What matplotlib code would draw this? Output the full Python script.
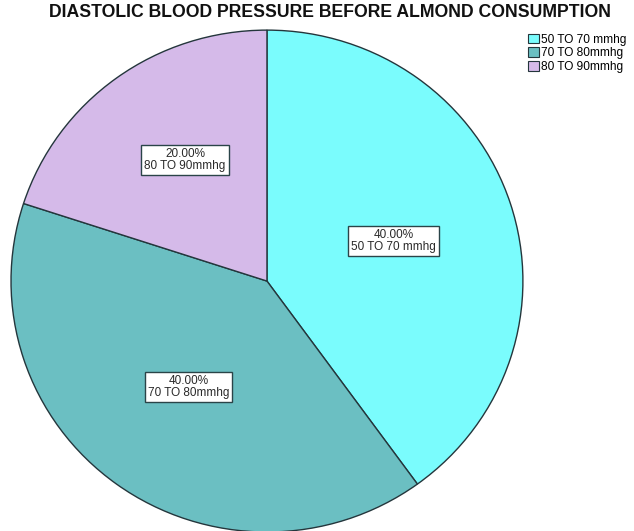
import numpy as np
import matplotlib.pyplot as plt
from matplotlib.patches import Patch

plt.rcParams['font.family'] = ['Liberation Sans', 'DejaVu Sans']

labels = ['50 TO 70 mmhg', '70 TO 80mmhg', '80 TO 90mmhg']
values = [40, 40, 20]
colors = ['#7afcfd', '#6bbfc2', '#d5bae9']
label_r = [0.52, 0.52, 0.58]  # radial position of the boxed labels

fig = plt.figure(figsize=(6.34, 5.31), dpi=100)
ax = fig.add_axes([0, 0, 1, 1])

wedges, _ = ax.pie(values, colors=colors, startangle=90, counterclock=False,
                   wedgeprops=dict(edgecolor='#24363c', linewidth=1.0))

ax.set_aspect('auto')
ax.set_xlim(-1.043, 1.434)
ax.set_ylim(-0.996, 1.120)
ax.axis('off')

# boxed percentage labels
for w, lab, v, r in zip(wedges, labels, values, label_r):
    ang = np.deg2rad((w.theta1 + w.theta2) / 2 - (2.5 if v == 20 else 0))
    x, y = r * np.cos(ang), r * np.sin(ang)
    ax.text(x, y, '%.2f%%\n%s' % (v, lab), ha='center', va='center',
            fontsize=8.5, color='#2a2a2a', linespacing=1.0,
            bbox=dict(boxstyle='square,pad=0.25', facecolor='white',
                      edgecolor='#2a4448', linewidth=1.0))

fig.text(0.52, 0.977, 'DIASTOLIC BLOOD PRESSURE BEFORE ALMOND CONSUMPTION',
         ha='center', va='center', fontsize=12.7, fontweight='bold', color='#111111')

handles = [Patch(facecolor=c, edgecolor='#24363c', linewidth=0.8) for c in colors]
fig.legend(handles, labels, loc='upper left', bbox_to_anchor=(0.823, 0.948),
           frameon=False, fontsize=8.6, handlelength=0.9, handleheight=0.9,
           handletextpad=0.2, labelspacing=0.12, borderpad=0)

fig.savefig('out.png', dpi=100)
